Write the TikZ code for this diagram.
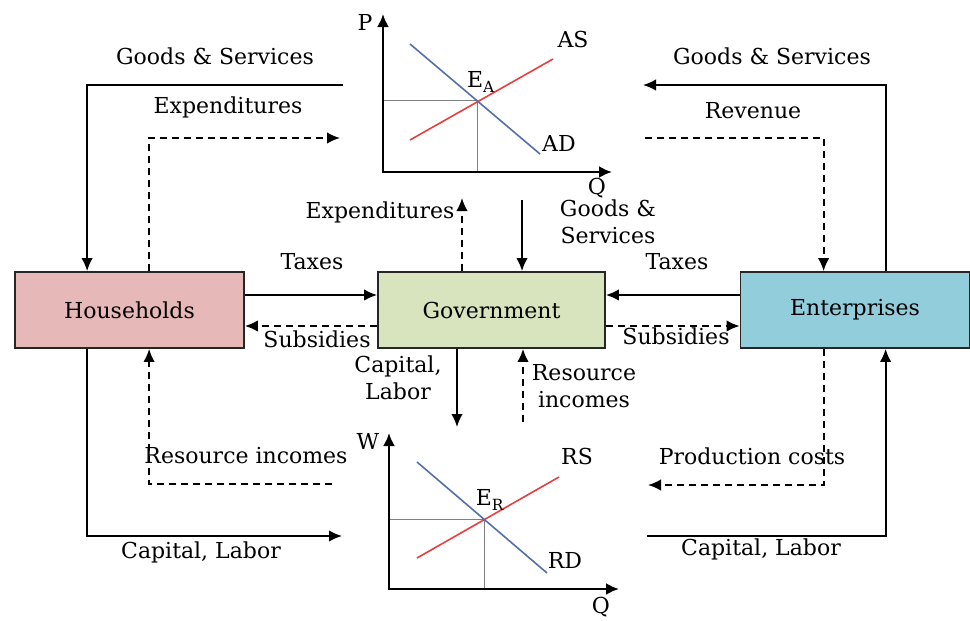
\documentclass[tikz,border=0pt]{standalone}
\usepackage{fontspec}
\setmainfont{DejaVu Serif}
\usetikzlibrary{arrows.meta}
\definecolor{hhpink}{RGB}{230,184,183}
\definecolor{govgreen}{RGB}{215,228,189}
\definecolor{entblue}{RGB}{146,205,220}
\definecolor{supred}{RGB}{232,62,62}
\definecolor{demblue}{RGB}{84,112,170}

\begin{document}
\begin{tikzpicture}[x=1pt,y=-1pt,
  font=\fontsize{22}{27}\selectfont,
  box/.style={shape=rectangle,draw=black!85,line width=1.8pt,minimum width=229pt,minimum height=76pt,inner sep=0pt},
  flow/.style={line width=1.8pt,-{Latex[length=13pt,width=11.5pt]}},
  dflow/.style={flow,dash pattern=on 7pt off 5pt},
  axis/.style={line width=2.4pt,{Latex[length=13pt,width=12pt]}-{Latex[length=13pt,width=12pt]}},
  guide/.style={draw=gray,line width=1pt},
  supply/.style={draw=supred,line width=1.6pt},
  demand/.style={draw=demblue,line width=1.6pt}]
\useasboundingbox (0,0) rectangle (970,621);

\node[box,fill=hhpink] (hh) at (129.5,310) {Households};
\node[box,fill=govgreen,minimum width=227pt] (gov) at (491.5,310) {Government};
\node[box,fill=entblue] (ent) at (855,310) {Enterprises};

\draw[flow] ([yshift=15pt]hh.east) -- ([yshift=15pt]gov.west);
\draw[dflow] ([yshift=-16pt]gov.west) -- ([yshift=-16pt]hh.east);
\draw[flow] ([yshift=15pt]ent.west) -- ([yshift=15pt]gov.east);
\draw[dflow] ([yshift=-16pt]gov.east) -- ([yshift=-16pt]ent.west);
\node (taxL) at (312,262) {Taxes};
\node (subL) at (317,339) {Subsidies};
\node (taxR) at (677,262) {Taxes};
\node (subR) at (676,336) {Subsidies};

\coordinate (hgsIn) at (343,85);
\coordinate (hexOut) at (340,138);
\coordinate (egsOut) at (643,85);
\coordinate (erevIn) at (645,138);
\coordinate (hclOut) at (342,536);
\coordinate (hriIn) at (332,484);
\coordinate (eclIn) at (647,536);
\coordinate (epcOut) at (648,485);
\draw[flow] (hgsIn) -| ([xshift=73pt]hh.north west);
\draw[dflow] ([xshift=135pt]hh.north west) |- (hexOut);
\draw[flow] ([xshift=146pt]ent.north west) |- (egsOut);
\draw[dflow] (erevIn) -| ([xshift=84pt]ent.north west);
\draw[flow] ([xshift=73pt]hh.south west) |- (hclOut);
\draw[dflow] (hriIn) -| ([xshift=135pt]hh.south west);
\draw[flow] (eclIn) -| ([xshift=146pt]ent.south west);
\draw[dflow] ([xshift=84pt]ent.south west) |- (epcOut);
\node (gsTL) at (215,56) {Goods \& Services};
\node (exTL) at (228,107) {Expenditures};
\node (gsTR) at (772,56) {Goods \& Services};
\node (revTR) at (753,111) {Revenue};
\node (riBL) at (246,456) {Resource incomes};
\node (clBL) at (201,552) {Capital, Labor};
\node (pcBR) at (752,456) {Production costs};
\node (clBR) at (761,549) {Capital, Labor};

\coordinate (gexOut) at (462,198);
\coordinate (ggsIn) at (522,200);
\coordinate (gclOut) at (457,427);
\coordinate (griIn) at (523,422);
\draw[dflow] (gov.north -| gexOut) -- (gexOut);
\draw[flow] (ggsIn) -- (gov.north -| ggsIn);
\draw[flow] (gov.south -| gclOut) -- (gclOut);
\draw[dflow] (griIn) -- (gov.south -| griIn);
\node (exC) at (380,212) {Expenditures};
\node[align=center] (gsC) at (608,222) {Goods \&\\Services};
\node[align=center] (clC) at (398,378) {Capital,\\Labor};
\node[align=center] (riC) at (584,386) {Resource\\incomes};

\coordinate (aO) at (383,172);
\coordinate (aP) at (383,14);
\coordinate (aQ) at (612,172);
\coordinate (EA) at (477,100);
\draw[guide] (aO |- EA) -- (EA) -- (aO -| EA);
\draw[supply] (410,140) -- (553,59);
\draw[demand] (410,44) -- (540,154);
\draw[axis] (aP) -- (aO) -- (aQ);
\node (pLab) at (365,22) {P};
\node (qLabA) at (597,188) {Q};
\node (asLab) at (573,39) {AS};
\node (adLab) at (559,143) {AD};
\node (eaLab) at (481,82) {E\textsubscript{A}};

\coordinate (rO) at (389,589);
\coordinate (rW) at (389,433);
\coordinate (rQ) at (619,589);
\coordinate (ER) at (484,519);
\draw[guide] (rO |- ER) -- (ER) -- (rO -| ER);
\draw[supply] (417,558) -- (559,477);
\draw[demand] (417,462) -- (547,573);
\draw[axis] (rW) -- (rO) -- (rQ);
\node (wLab) at (368,441) {W};
\node (qLabR) at (601,607) {Q};
\node (rsLab) at (577,456) {RS};
\node (rdLab) at (565,560) {RD};
\node (erLab) at (490,500) {E\textsubscript{R}};
\end{tikzpicture}
\end{document}
